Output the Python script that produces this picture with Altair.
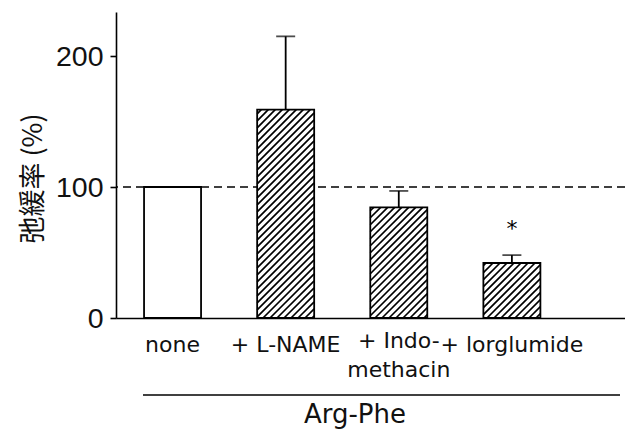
import altair as alt
import pandas as pd

# ---- data ----
categories = ["none", "+ L-NAME", "+ Indo-\nmethacin", "+ lorglumide"]
means = [100, 159, 84.5, 42]
sems = [None, 56, 12.5, 6]
hatched = [False, True, True, True]
significant = [False, False, False, True]
y_ticks = [0, 100, 200]
group_label = "Arg-Phe"
y_title = "弛緩率 (%)"
reference_value = 100

# ---- geometry / style ----
W, H = 509, 306
X_DOM = [-0.5, 4.0]
Y_DOM = [0, 233.6]
HALF = 0.252
sx = W / (X_DOM[1] - X_DOM[0])
sy = H / (Y_DOM[1] - Y_DOM[0])
PERIOD = 7.0  # hatch horizontal period (px)

idx = list(range(len(categories)))
bars = pd.DataFrame({
    "i": idx,
    "x0": [i - HALF for i in idx],
    "x1": [i + HALF for i in idx],
    "mean": means,
    "label": categories,
    "nlines": [c.count("\n") + 1 for c in categories],
})
err = pd.DataFrame({
    "i": [i for i in idx if sems[i] is not None],
    "mean": [means[i] for i in idx if sems[i] is not None],
    "top": [means[i] + sems[i] for i in idx if sems[i] is not None],
})
stars = pd.DataFrame({
    "i": [i for i in idx if significant[i]],
    "top": [means[i] + (sems[i] or 0) for i in idx if significant[i]],
})

# hatch lines (45 deg, "/") clipped to each hatched bar
segs = []
for i in idx:
    if not hatched[i]:
        continue
    xl = (i - HALF - X_DOM[0]) * sx
    xr = (i + HALF - X_DOM[0]) * sx
    h = (means[i] - Y_DOM[0]) * sy
    k0 = int((xl - h) // PERIOD) - 1
    k1 = int(xr // PERIOD) + 1
    for k in range(k0, k1 + 1):
        t = k * PERIOD
        a = max(xl, t)
        b = min(xr, t + h)
        if b - a <= 0.5:
            continue
        segs.append({
            "xa": a / sx + X_DOM[0], "xb": b / sx + X_DOM[0],
            "ya": (a - t) / sy, "yb": (b - t) / sy,
        })
hatch = pd.DataFrame(segs)

xs = alt.Scale(domain=X_DOM, nice=False, zero=False)
ys = alt.Scale(domain=Y_DOM, nice=False, zero=False)

x_axis = alt.Axis(labels=False, ticks=False, title=None, grid=False,
                  domainColor="#000", domainWidth=1.6)
y_axis = alt.Axis(values=y_ticks, grid=False, tickSize=6, tickWidth=1.6,
                  tickColor="#000", domainColor="#000", domainWidth=1.6,
                  labelFont="Liberation Sans", labelFontSize=28.5,
                  labelColor="#111", labelPadding=7,
                  title=y_title, titleFont="Noto Sans CJK JP",
                  titleFontSize=27, titleFontWeight="normal", titleColor="#111",
                  titleAngle=-90, titleX=-83, titleY=166,
                  titleAlign="center", titleBaseline="middle")

dash = alt.Chart(pd.DataFrame({"v": [reference_value]})).mark_rule(
    color="#000", strokeWidth=1.6, strokeDash=[8, 5]
).encode(y=alt.Y("v:Q", scale=ys, axis=y_axis))

bar_fill = alt.Chart(bars).mark_rect(fill="white", stroke=None).encode(
    x=alt.X("x0:Q", scale=xs, axis=x_axis), x2="x1:Q",
    y=alt.Y("mean:Q", scale=ys), y2=alt.datum(0),
)

hatch_lines = alt.Chart(hatch).mark_rule(color="#000", strokeWidth=1.7).encode(
    x=alt.X("xa:Q", scale=xs), x2="xb:Q",
    y=alt.Y("ya:Q", scale=ys), y2="yb:Q",
)

bar_edge = alt.Chart(bars).mark_rect(fill=None, stroke="#000", strokeWidth=1.8).encode(
    x=alt.X("x0:Q", scale=xs), x2="x1:Q",
    y=alt.Y("mean:Q", scale=ys), y2=alt.datum(0),
)

err_line = alt.Chart(err).mark_rule(color="#000", strokeWidth=1.8).encode(
    x=alt.X("i:Q", scale=xs), y=alt.Y("mean:Q", scale=ys), y2="top:Q",
)
err_cap = alt.Chart(err).mark_tick(color="#000", thickness=1.8, size=19,
                                   orient="horizontal").encode(
    x=alt.X("i:Q", scale=xs), y=alt.Y("top:Q", scale=ys),
)

star = alt.Chart(stars).mark_text(text="*", font="DejaVu Sans", fontSize=22,
                                  baseline="middle", dy=-26, color="#000").encode(
    x=alt.X("i:Q", scale=xs), y=alt.Y("top:Q", scale=ys),
)

label_style = dict(font="DejaVu Sans", fontSize=22, baseline="alphabetic",
                   align="center", lineBreak="\n", lineHeight=29, color="#111")
cat_labels_1 = alt.Chart(bars).transform_filter("datum.nlines == 1").mark_text(
    **label_style
).encode(x=alt.X("i:Q", scale=xs), y=alt.value(340), text="label:N")
cat_labels_2 = alt.Chart(bars).transform_filter("datum.nlines > 1").mark_text(
    **label_style
).encode(x=alt.X("i:Q", scale=xs), y=alt.value(336), text="label:N")

group_line = alt.Chart(pd.DataFrame({"g": [group_label]})).mark_rule(
    color="#000", strokeWidth=1.6
).encode(x=alt.value(27), x2=alt.value(504), y=alt.value(383))

group_text = alt.Chart(pd.DataFrame({"g": [group_label]})).mark_text(
    font="DejaVu Sans", fontSize=26, baseline="middle", align="center", color="#111"
).encode(x=alt.value(239), y=alt.value(403), text="g:N")

chart = alt.layer(
    dash, bar_fill, hatch_lines, bar_edge, err_line, err_cap, star,
    cat_labels_1, cat_labels_2, group_line, group_text
).properties(
    width=W, height=H,
    autosize=alt.AutoSizeParams(type="none"),
    padding={"left": 108, "top": 4, "right": 0, "bottom": 111},
).configure_view(stroke=None)

chart.save("out.html", embed_options={"renderer": "svg", "actions": False})
